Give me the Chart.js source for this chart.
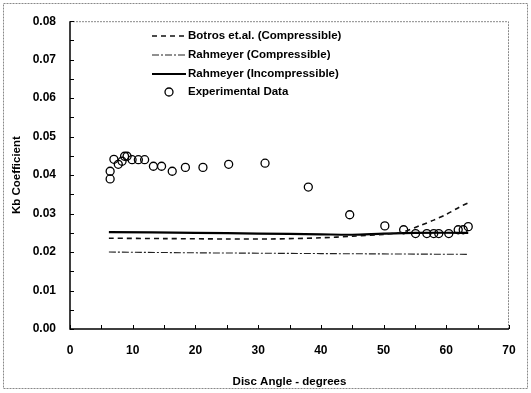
<!DOCTYPE html>
<html>
<head>
<meta charset="utf-8">
<script src="https://cdn.jsdelivr.net/npm/chart.js@4"></script>
<style>
  html, body { margin: 0; padding: 0; background: #fff; }
  #wrap { width: 531px; height: 393px; }
</style>
</head>
<body>
<div id="wrap"><canvas id="kbChart" width="531" height="393"></canvas></div>
<script>
// experimental points (disc angle, Kb)
const expAngle = [6.4, 6.4, 7.0, 7.7, 8.3, 8.7, 9.1, 9.9, 10.9, 11.9, 13.3, 14.6, 16.3, 18.4, 21.2, 25.3, 31.1, 38.0, 44.6, 50.2, 53.2, 55.1, 56.9, 58.0, 58.8, 60.4, 61.9, 62.7, 63.5];
const expKb    = [0.0410, 0.0390, 0.0441, 0.0428, 0.0436, 0.0449, 0.0449, 0.0440, 0.0440, 0.0440, 0.0423, 0.0423, 0.0410, 0.0420, 0.0420, 0.0428, 0.0431, 0.0369, 0.0297, 0.0268, 0.0258, 0.0248, 0.0248, 0.0248, 0.0248, 0.0248, 0.0258, 0.0258, 0.0266];

const botrosAngle = [6.2, 15, 25, 32, 40, 45, 50, 53, 56, 58, 60, 62, 63.5];
const botrosKb    = [0.0236, 0.0235, 0.0234, 0.0234, 0.0237, 0.0241, 0.0246, 0.0252, 0.0270, 0.0283, 0.0298, 0.0316, 0.0328];

const rahCompAngle = [6.2, 20, 40, 63.5];
const rahCompKb    = [0.0200, 0.0198, 0.0196, 0.0194];

const rahIncAngle = [6.2, 20, 30, 40, 45, 50, 55, 63.5];
const rahIncKb    = [0.0252, 0.0250, 0.0248, 0.0246, 0.0245, 0.0248, 0.0250, 0.0250];

const xTicks = [0, 10, 20, 30, 40, 50, 60, 70];
const yTicks = [0.00, 0.01, 0.02, 0.03, 0.04, 0.05, 0.06, 0.07, 0.08];

function pts(xs, ys) {
    return xs.map((x, i) => ({ x: x, y: ys[i] }));
}

const FONT = 'Liberation Sans, Arial, sans-serif';

// frame, inward ticks and the legend block
const decorPlugin = {
    id: 'decor',
    afterDraw(chart) {
        const ctx = chart.ctx;
        const a = chart.chartArea;
        const xs = chart.scales.x, ys = chart.scales.y;
        ctx.save();

        // outer frame
        ctx.strokeStyle = '#888';
        ctx.lineWidth = 1;
        ctx.setLineDash([2, 1]);
        ctx.strokeRect(3.5, 3.5, 524, 385);

        // top and right edge of plot box
        ctx.beginPath();
        ctx.moveTo(a.left, a.top + 0.5);
        ctx.lineTo(a.right - 0.5, a.top + 0.5);
        ctx.lineTo(a.right - 0.5, a.bottom);
        ctx.stroke();
        ctx.setLineDash([]);

        // axes
        ctx.strokeStyle = '#000';
        ctx.lineWidth = 1.5;
        ctx.beginPath();
        ctx.moveTo(a.left, a.top);
        ctx.lineTo(a.left, a.bottom);
        ctx.lineTo(a.right, a.bottom);
        ctx.stroke();

        // inward ticks, major and minor
        ctx.lineWidth = 1;
        ctx.beginPath();
        for (let v = 0; v <= 0.08001; v += 0.005) {
            const py = Math.round(ys.getPixelForValue(v)) + 0.5;
            ctx.moveTo(a.left, py);
            ctx.lineTo(a.left + 4, py);
        }
        for (let v = 0; v <= 70; v += 5) {
            const px = Math.round(xs.getPixelForValue(v)) + 0.5;
            ctx.moveTo(px, a.bottom);
            ctx.lineTo(px, a.bottom - 4);
        }
        ctx.stroke();

        // legend
        const lx0 = 152, lx1 = 186, tx = 188;
        const rowY = [36, 55, 74, 92];
        ctx.font = 'bold 11.5px ' + FONT;
        ctx.fillStyle = '#000';
        ctx.textBaseline = 'middle';
        chart.data.datasets.forEach((ds, i) => {
            const y = rowY[i];
            if (ds.showLine) {
                ctx.strokeStyle = ds.borderColor;
                ctx.lineWidth = ds.borderWidth;
                ctx.setLineDash(ds.borderDash || []);
                ctx.beginPath();
                ctx.moveTo(lx0, y);
                ctx.lineTo(lx1, y);
                ctx.stroke();
                ctx.setLineDash([]);
            } else {
                ctx.strokeStyle = '#000';
                ctx.lineWidth = 1.3;
                ctx.beginPath();
                ctx.arc(169, y, 4, 0, Math.PI * 2);
                ctx.stroke();
            }
            ctx.fillText(ds.label, tx, y);
        });
        ctx.restore();
    }
};

const ctx = document.getElementById('kbChart').getContext('2d');
new Chart(ctx, {
    type: 'scatter',
    data: {
        datasets: [
            {
                label: 'Botros et.al. (Compressible)',
                data: pts(botrosAngle, botrosKb),
                showLine: true,
                borderColor: '#111',
                borderWidth: 1.6,
                borderDash: [5, 4],
                pointRadius: 0,
                tension: 0.3
            },
            {
                label: 'Rahmeyer (Compressible)',
                data: pts(rahCompAngle, rahCompKb),
                showLine: true,
                borderColor: '#222',
                borderWidth: 1.1,
                borderDash: [7, 2, 2, 2],
                pointRadius: 0
            },
            {
                label: 'Rahmeyer (Incompressible)',
                data: pts(rahIncAngle, rahIncKb),
                showLine: true,
                borderColor: '#000',
                borderWidth: 2.2,
                pointRadius: 0,
                tension: 0.3
            },
            {
                label: 'Experimental Data',
                data: pts(expAngle, expKb),
                showLine: false,
                pointRadius: 4,
                pointBorderWidth: 1.3,
                pointBorderColor: '#000',
                pointBackgroundColor: 'rgba(255,255,255,0)'
            }
        ]
    },
    options: {
        responsive: false,
        animation: false,
        layout: { padding: { left: 0, top: 18, right: 22, bottom: 0 } },
        plugins: {
            legend: { display: false },
            tooltip: { enabled: false }
        },
        scales: {
            x: {
                type: 'linear',
                min: 0,
                max: 70,
                afterBuildTicks: s => { s.ticks = xTicks.map(v => ({ value: v })); },
                afterFit: s => { s.height = 64; },
                grid: { display: false, drawTicks: false },
                border: { display: false },
                ticks: {
                    padding: 14,
                    color: '#000',
                    font: { family: FONT, size: 12, weight: 'bold' }
                },
                title: {
                    display: true,
                    text: 'Disc Angle - degrees',
                    color: '#000',
                    padding: { top: 6 },
                    font: { family: FONT, size: 11.5, weight: 'bold' }
                }
            },
            y: {
                type: 'linear',
                min: 0,
                max: 0.08,
                afterBuildTicks: s => { s.ticks = yTicks.map(v => ({ value: v })); },
                afterFit: s => { s.width = 70; },
                grid: { display: false, drawTicks: false },
                border: { display: false },
                ticks: {
                    padding: 14,
                    color: '#000',
                    font: { family: FONT, size: 12, weight: 'bold' },
                    callback: v => v.toFixed(2)
                },
                title: {
                    display: true,
                    text: 'Kb Coefficient',
                    color: '#000',
                    padding: { top: 10, bottom: 0 },
                    font: { family: FONT, size: 11.5, weight: 'bold' }
                }
            }
        }
    },
    plugins: [decorPlugin]
});
</script>
</body>
</html>
